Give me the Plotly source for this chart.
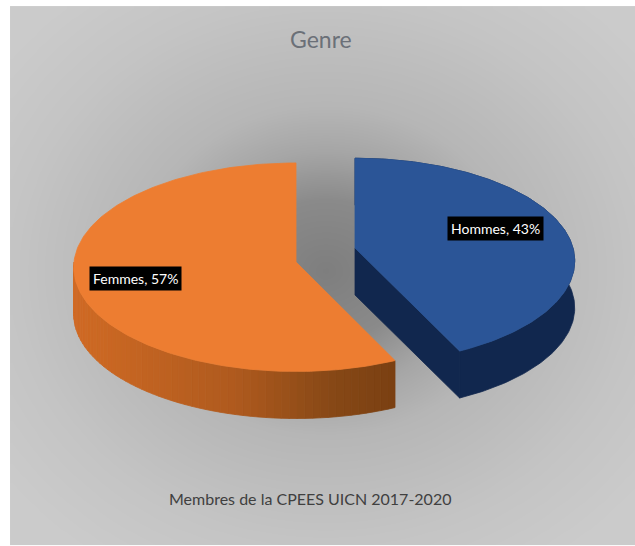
import numpy as np
import plotly.graph_objects as go

# Gender split of the commission members
categories = ["Hommes", "Femmes"]
shares = [43, 57]
chart_title = "Genre"
chart_note = "Membres de la CPEES UICN 2017-2020"

WIDTH, HEIGHT = 635, 546
DEPTH = 47

# Projected disc of each exploded slice: apex, radii, perspective strength
DISCS = {
    "Hommes": dict(cx=355, cy=248, rx=218, ry=101, k=0.125),
    "Femmes": dict(cx=296, cy=262, rx=222, ry=104, k=0.05),
}
TOP_COLOURS = {"Hommes": "#2b5597", "Femmes": "#ed7d31"}
NAVY_SIDE = "#11274e"
ORANGE_SIDE_STOPS = [(0.0, (208, 106, 36)), (0.5, (175, 90, 30)), (0.8, (135, 72, 22)), (1.0, (122, 64, 18))]


def rim(disc, theta):
    """Project clockwise-from-north angles onto the tilted disc."""
    scale = 1 / (1 + disc["k"] * np.cos(theta))
    x = disc["cx"] + disc["rx"] * np.sin(theta) * scale
    y = disc["cy"] - disc["ry"] * np.cos(theta) * scale
    return x, y


def polygon(x, y, colour):
    return go.Scatter(
        x=x, y=y, mode="lines", fill="toself", fillcolor=colour,
        line=dict(color=colour, width=0.8), hoverinfo="skip", showlegend=False,
    )


def side_colour(t):
    xs = [s[0] for s in ORANGE_SIDE_STOPS]
    rgb = [np.interp(t, xs, [s[1][i] for s in ORANGE_SIDE_STOPS]) for i in range(3)]
    return "rgb({:.0f},{:.0f},{:.0f})".format(*rgb)


fig = go.Figure()

# Radial grey backdrop of the chart area
gx = np.linspace(12, WIDTH + 2, 160)
gy = np.linspace(8, 543, 140)
mx, my = np.meshgrid(gx, gy)
dist = np.clip(np.hypot((mx - 325) / 310, (my - 270) / 270), 0, 1.3) / 1.3
fig.add_trace(go.Heatmap(
    x=gx, y=gy, z=dist, zmin=0, zmax=1, zsmooth="best", showscale=False, hoverinfo="skip",
    colorscale=[[0, "#7e7e7e"], [0.2, "#8a8a8a"], [0.34, "#a6a6a6"], [0.47, "#b6b6b6"], [0.77, "#c4c4c4"], [1, "#cbcbcb"]],
))

# Slice angles come from the shares, starting at twelve o'clock
total = sum(shares)
edges = np.cumsum([0] + shares) / total * 2 * np.pi
spans = {name: (edges[i], edges[i + 1]) for i, name in enumerate(categories)}

# Femmes: front wall split into strips for the left-to-right shading
disc = DISCS["Femmes"]
start, end = spans["Femmes"]
wall = np.linspace(start, 3 * np.pi / 2, 61)
x_min, x_max = rim(disc, np.array([3 * np.pi / 2]))[0][0], rim(disc, np.array([start]))[0][0]
for a, b in zip(wall[:-1], wall[1:]):
    sx, sy = rim(disc, np.linspace(a, b, 3))
    t = (sx.mean() - x_min) / (x_max - x_min)
    fig.add_trace(polygon(
        np.r_[sx, sx[::-1], sx[0]], np.r_[sy, sy[::-1] + DEPTH, sy[0]], side_colour(t),
    ))
tx, ty = rim(disc, np.linspace(start, end, 200))
fig.add_trace(polygon(np.r_[disc["cx"], tx, disc["cx"]], np.r_[disc["cy"], ty, disc["cy"]], TOP_COLOURS["Femmes"]))

# Hommes: cut face and rim wall in navy, then the top face
disc = DISCS["Hommes"]
start, end = spans["Hommes"]
tx, ty = rim(disc, np.linspace(start, end, 160))
ax, ay = disc["cx"], disc["cy"]
fig.add_trace(polygon(
    np.r_[ax, tx[-1], tx[-1], ax, ax], np.r_[ay, ty[-1], ty[-1] + DEPTH, ay + DEPTH, ay], NAVY_SIDE,
))
fig.add_trace(polygon(np.r_[tx, tx[::-1], tx[0]], np.r_[ty, ty[::-1] + DEPTH, ty[0]], NAVY_SIDE))
fig.add_trace(polygon(np.r_[ax, tx, ax], np.r_[ay, ty, ay], TOP_COLOURS["Hommes"]))

# Text: title, caption and the two black data labels
annotations = [
    dict(x=321, y=39, text=chart_title, font=dict(size=23, color="#6b7078")),
    dict(x=310, y=498, text=chart_note, font=dict(size=16, color="#404040")),
]
label_anchor = {"Hommes": (495.5, 228), "Femmes": (135.5, 278.5)}
for name, value in zip(categories, shares):
    lx, ly = label_anchor[name]
    annotations.append(dict(
        x=lx, y=ly, text=f"{name}, {round(value / total * 100)}%",
        font=dict(size=14, color="#ffffff"), bgcolor="#000000", borderpad=3,
    ))
for note in annotations:
    note.update(xref="x", yref="y", showarrow=False, xanchor="center", yanchor="middle")

fig.update_layout(
    width=WIDTH, height=HEIGHT, margin=dict(l=0, r=0, t=0, b=0),
    paper_bgcolor="#ffffff", plot_bgcolor="#ffffff",
    font=dict(family="Lato, 'Open Sans', sans-serif"),
    xaxis=dict(range=[0, WIDTH], visible=False, fixedrange=True),
    yaxis=dict(range=[HEIGHT, 0], visible=False, fixedrange=True),
    annotations=annotations, showlegend=False,
)

fig.write_html("out.html", config=dict(displayModeBar=False))
